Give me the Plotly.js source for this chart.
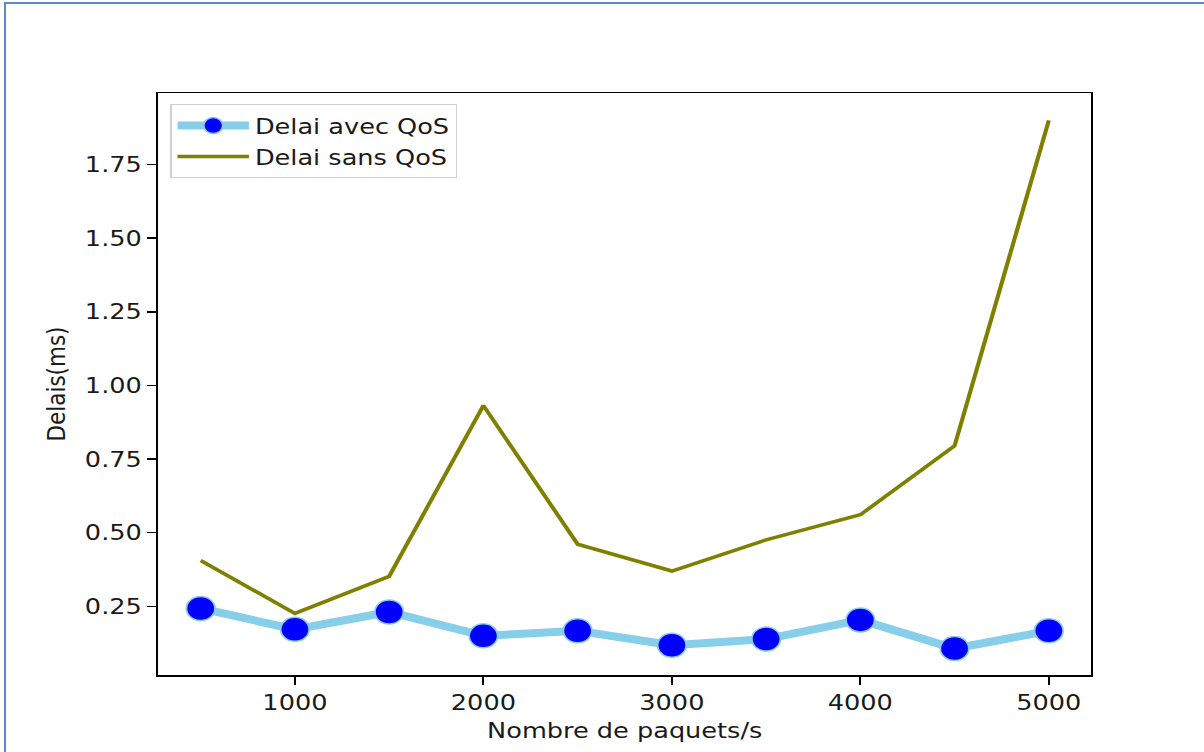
<!DOCTYPE html>
<html>
<head>
<meta charset="utf-8">
<script src="https://cdn.plot.ly/plotly-3.0.1.min.js"></script>
<style>
  html, body { margin: 0; padding: 0; background: #fff; overflow: hidden; }
  #frame {
    position: absolute; left: 4px; top: 2px; width: 1300px; height: 800px;
    border-left: 2px solid #5b8bc7; border-top: 2px solid #5b8bc7;
  }
  #stage {
    position: absolute; left: 0; top: 0; width: 1012px; height: 752px;
    transform: scaleX(1.19); transform-origin: 0 0;
  }
</style>
</head>
<body>
<div id="frame"></div>
<div id="stage"></div>
<script>
// Packets per second
const paquets = [500, 1000, 1500, 2000, 2500, 3000, 3500, 4000, 4500, 5000];
// Delay in ms with QoS
const delaiAvecQoS = [0.243, 0.172, 0.231, 0.150, 0.167, 0.118, 0.139, 0.204, 0.107, 0.167];
// Delay in ms without QoS
const delaiSansQoS = [0.406, 0.226, 0.352, 0.932, 0.461, 0.370, 0.476, 0.561, 0.795, 1.900];

const xTicks = [1000, 2000, 3000, 4000, 5000];
const yTicks = [0.25, 0.50, 0.75, 1.00, 1.25, 1.50, 1.75];
const yTickText = yTicks.map(v => v.toFixed(2));

const font = { family: 'DejaVu Sans, sans-serif', size: 21.5, color: '#1a1a1a' };

const traces = [
  {
    x: paquets, y: delaiAvecQoS, name: 'Delai avec QoS',
    type: 'scatter', mode: 'lines+markers',
    line: { color: '#87ceeb', width: 8 },
    marker: { color: '#0000ff', size: 24, line: { color: '#87ceeb', width: 1.5 } }
  },
  {
    x: paquets, y: delaiSansQoS, name: 'Delai sans QoS',
    type: 'scatter', mode: 'lines',
    line: { color: '#808000', width: 3.5 }
  }
];

const axisCommon = {
  showline: true, mirror: true, linecolor: '#000', linewidth: 1.5,
  ticks: 'outside', ticklen: 8, tickwidth: 1.5, tickcolor: '#000',
  showgrid: false, zeroline: false, tickfont: font
};

const layout = {
  width: 1012, height: 752,
  margin: { l: 133, r: 95, t: 93, b: 77 },
  paper_bgcolor: 'rgba(0,0,0,0)', plot_bgcolor: '#fff',
  font: font,
  showlegend: true,
  legend: {
    x: 0.013, y: 0.981, xanchor: 'left', yanchor: 'top',
    bgcolor: 'rgba(255,255,255,0.8)', bordercolor: '#d0d0d0', borderwidth: 1,
    font: font, tracegroupgap: 0, itemwidth: 60
  },
  xaxis: Object.assign({}, axisCommon, {
    range: [275, 5225], tickvals: xTicks,
    title: { text: 'Nombre de paquets/s', font: font, standoff: 8 }
  }),
  yaxis: Object.assign({}, axisCommon, {
    range: [0.017, 1.993], tickvals: yTicks, ticktext: yTickText,
    title: { text: 'Delais(ms)', font: font, standoff: 10 }
  })
};

Plotly.newPlot('stage', traces, layout, { staticPlot: true, displayModeBar: false });
</script>
</body>
</html>
